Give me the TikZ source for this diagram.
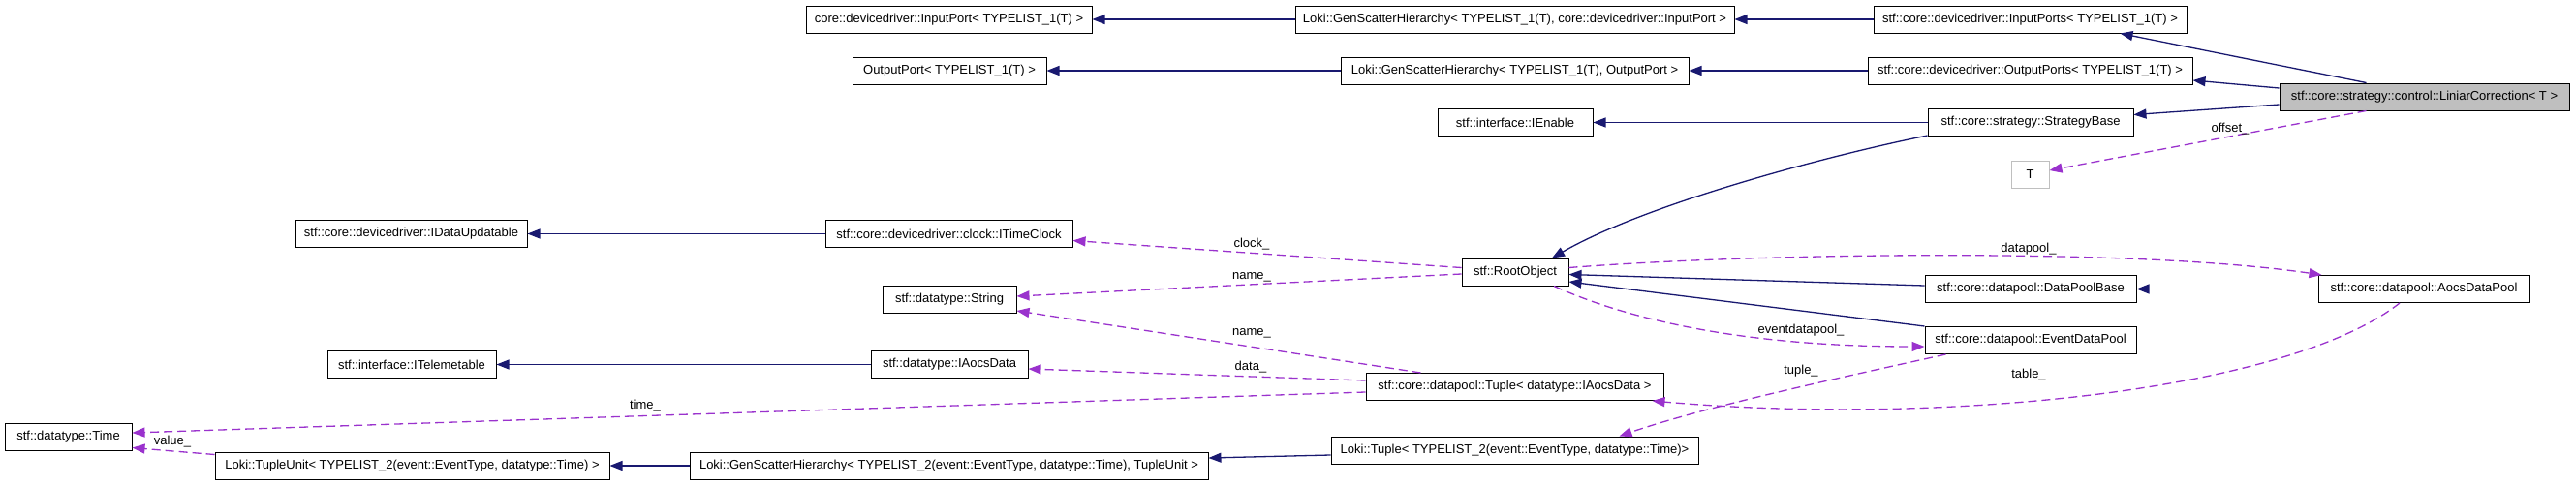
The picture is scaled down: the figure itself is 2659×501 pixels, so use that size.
\documentclass[tikz,border=0pt]{standalone}
\usepackage{fontspec}
\setmainfont{Liberation Sans}
\usetikzlibrary{arrows.meta,calc}
\definecolor{navy}{HTML}{191970}
\definecolor{purp}{HTML}{9A32CD}
\definecolor{boxgray}{HTML}{BFBFBF}
\newcommand\dxfont{\fontsize{13pt}{15pt}\selectfont}
\tikzset{
  cls/.style={draw=black, line width=1pt, fill=white, minimum height=28pt, inner sep=0pt, font=\dxfont},
  inh/.style={draw=navy, line width=1.3pt, -{Triangle[length=13pt,width=10pt]}},
  use/.style={draw=purp, line width=1.3pt, dash pattern=on 9pt off 5pt, -{Triangle[length=13pt,width=10pt]}},
  lbl/.style={font=\dxfont, inner sep=0pt},
}
\begin{document}
\begin{tikzpicture}[x=1pt,y=-1pt]
\fill[white] (0,0) rectangle (2659,501);
\useasboundingbox (0,0) rectangle (2659,501);

% row 1
\node[cls, minimum width=295pt] (inport) at (979.5,20) {core::devicedriver::InputPort< TYPELIST\_1(T) >};
\node[cls, minimum width=453pt] (gshin) at (1563.5,20) {Loki::GenScatterHierarchy< TYPELIST\_1(T), core::devicedriver::InputPort >};
\node[cls, minimum width=323pt] (inports) at (2095.5,20) {stf::core::devicedriver::InputPorts< TYPELIST\_1(T) >};
% row 2
\node[cls, minimum width=200pt] (outport) at (980,73) {OutputPort< TYPELIST\_1(T) >};
\node[cls, minimum width=359pt] (gshout) at (1563.5,73) {Loki::GenScatterHierarchy< TYPELIST\_1(T), OutputPort >};
\node[cls, minimum width=335pt] (outports) at (2095.5,73) {stf::core::devicedriver::OutputPorts< TYPELIST\_1(T) >};
% main class
\node[cls, minimum width=299pt, fill=boxgray] (lin) at (2502.5,100) {stf::core::strategy::control::LiniarCorrection< T >};
% row 3
\node[cls, minimum width=160pt] (ienable) at (1564,126.5) {stf::interface::IEnable};
\node[cls, minimum width=212pt] (strat) at (2096,126.5) {stf::core::strategy::StrategyBase};
\node[cls, minimum width=39pt, draw=boxgray] (tt) at (2095.5,180) {T};
% middle
\node[cls, minimum width=239pt] (idu) at (424.5,241.5) {stf::core::devicedriver::IDataUpdatable};
\node[cls, minimum width=255pt] (itc) at (979.5,241.5) {stf::core::devicedriver::clock::ITimeClock};
\node[cls, minimum width=110pt] (root) at (1564,281) {stf::RootObject};
\node[cls, minimum width=138pt] (str) at (980,309) {stf::datatype::String};
\node[cls, minimum width=218pt] (dpb) at (2096,298.5) {stf::core::datapool::DataPoolBase};
\node[cls, minimum width=218pt] (adp) at (2502,298.5) {stf::core::datapool::AocsDataPool};
\node[cls, minimum width=174pt] (itel) at (425,376.5) {stf::interface::ITelemetable};
\node[cls, minimum width=162pt] (iad) at (980,376.5) {stf::datatype::IAocsData};
\node[cls, minimum width=218pt] (edp) at (2096,351.5) {stf::core::datapool::EventDataPool};
\node[cls, minimum width=307pt] (tpa) at (1563.5,399.5) {stf::core::datapool::Tuple< datatype::IAocsData >};
% bottom
\node[cls, minimum width=131pt] (time) at (70.5,451.5) {stf::datatype::Time};
\node[cls, minimum width=407pt] (tu) at (425.5,481) {Loki::TupleUnit< TYPELIST\_2(event::EventType, datatype::Time) >};
\node[cls, minimum width=535pt] (gshtu) at (979.5,481) {Loki::GenScatterHierarchy< TYPELIST\_2(event::EventType, datatype::Time), TupleUnit >};
\node[cls, minimum width=379pt] (lt) at (1563.5,465) {Loki::Tuple< TYPELIST\_2(event::EventType, datatype::Time)>};

% inheritance
\draw[inh] (gshin) -- (inport);
\draw[inh] (inports) -- (gshin);
\draw[inh] ($(lin.north west)+(90,0)$) -- ($(inports.south)+(93,0)$);
\draw[inh] (gshout) -- (outport);
\draw[inh] (outports) -- (gshout);
\draw[inh] ($(lin.west)+(0,-9)$) -- ($(outports.east)+(0,10)$);
\draw[inh] ($(lin.west)+(0,8)$) -- ($(strat.east)+(0,-8)$);
\draw[inh] (strat) -- (ienable);
\draw[inh] ($(strat.south west)+(0,-1)$) .. controls (1890,160) and (1700,210) .. ($(root.north)+(38,0)$);
\draw[inh] (itc) -- (idu);
\draw[inh] ($(dpb.west)+(0,-3.5)$) -- ($(root.east)+(0,2.5)$);
\draw[inh] (edp.north west) -- ($(root.east)+(0,10)$);
\draw[inh] (adp) -- (dpb);
\draw[inh] (iad) -- (itel);
\draw[inh] (gshtu) -- (tu);
\draw[inh] ($(lt.west)+(0,5)$) -- ($(gshtu.east)+(0,-8)$);

% usage
\draw[use] ($(lin.south west)+(90,0)$) -- ($(tt.east)+(0,-4)$);
\node[lbl] (loffset) at (2302,133) {offset\_};
\draw[use] ($(root.west)+(0,-4.5)$) -- ($(itc.east)+(0,7)$);
\node[lbl] (lclock) at (1292,252) {clock\_};
\draw[use] ($(root.west)+(0,2)$) -- ($(str.east)+(0,-3)$);
\node[lbl] (lname1) at (1292,286) {name\_};
\draw[use] ($(root.east)+(0,-4.5)$) .. controls (1800,262) and (2200,255) .. ($(adp.north west)+(4,0)$);
\node[lbl] (ldp) at (2094,257) {datapool\_};
\draw[use] ($(root.south)+(40,0)$) .. controls (1680,330) and (1800,358) .. ($(edp.west)+(0,6.5)$);
\node[lbl] (ledp) at (1859,341) {eventdatapool\_};
\draw[use] ($(tpa.north west)+(57,0)$) -- ($(str.east)+(0,12)$);
\node[lbl] (lname2) at (1292,344) {name\_};
\draw[use] ($(tpa.west)+(0,-6.5)$) -- ($(iad.east)+(0,4.5)$);
\node[lbl] (ldata) at (1291,379) {data\_};
\draw[use] ($(tpa.west)+(0,5.5)$) -- ($(time.east)+(0,-4.5)$);
\node[lbl] (ltime) at (666,419) {time\_};
\draw[use] ($(adp.south)+(-25,0)$) .. controls (2360,405) and (2000,440) .. ($(tpa.south east)+(-12,0)$);
\node[lbl] (ltable) at (2094,387) {table\_};
\draw[use] ($(edp.south west)+(22,0)$) .. controls (1900,390) and (1760,420) .. ($(lt.north)+(108,0)$);
\node[lbl] (ltuple) at (1859,383) {tuple\_};
\draw[use] ($(tu.north west)+(0,3)$) -- ($(time.east)+(0,11)$);
\node[lbl] (lvalue) at (178,456) {value\_};
\end{tikzpicture}
\end{document}
